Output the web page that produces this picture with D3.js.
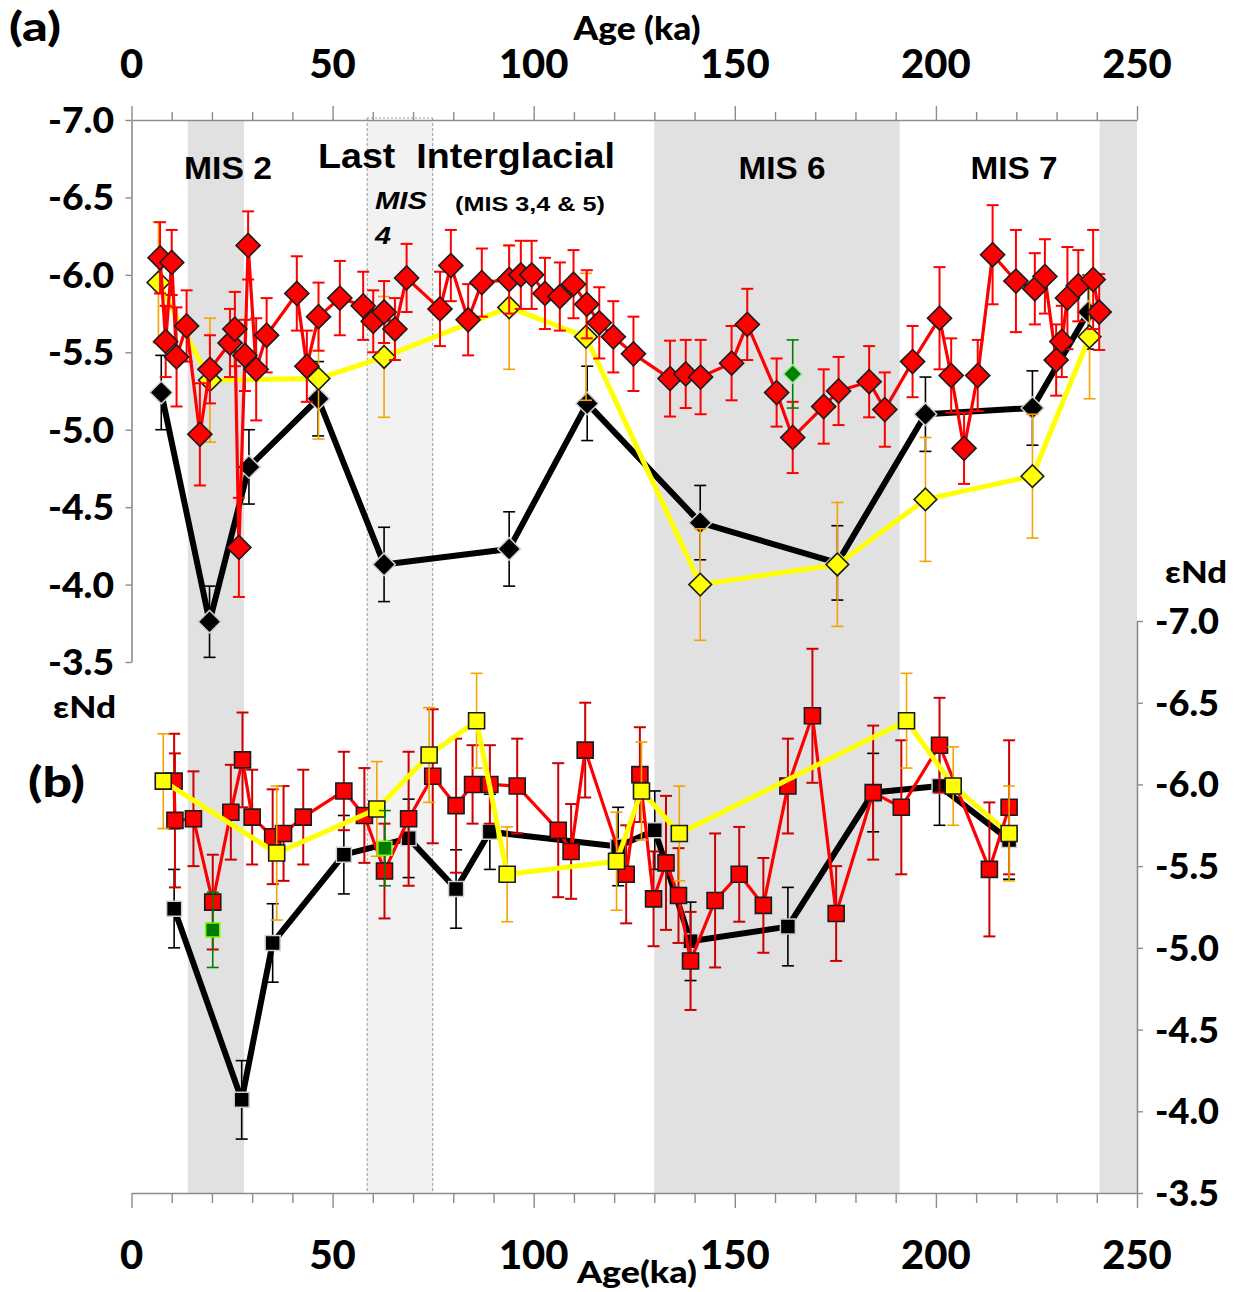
<!DOCTYPE html>
<html>
<head>
<meta charset="utf-8">
<script src="https://cdn.jsdelivr.net/npm/d3@7"></script>
<style>
  html, body { margin: 0; padding: 0; background: #fff; }
  .num { font-family: Lato, "Open Sans", sans-serif; font-weight: 900; fill: #000; }
  .lab { font-family: "Liberation Sans", Arial, sans-serif; font-weight: 700; fill: #000; white-space: pre; }
</style>
</head>
<body>
<div id="chart"></div>
<script>
// ---- data (ages in ka, εNd values, 1σ errors) ----
const ageTicks = [0, 50, 100, 150, 200, 250];
const ndTicks = [-7.0, -6.5, -6.0, -5.5, -5.0, -4.5, -4.0, -3.5];

const bandNames = ['MIS 2', 'MIS 4', 'MIS 6', 'MIS 8'];
const bandStart = [14, 58.6, 130, 240.7];
const bandEnd = [28, 74.9, 191, 250];

// panel (a) – diamonds
const aRedAge = [7.1, 8.5, 10.0, 11.2, 13.7, 17.0, 19.5, 24.5, 25.7, 26.7, 28.2, 29.0, 31.0, 33.6, 41.1, 43.6, 46.5, 51.8, 57.6, 60.1, 62.8, 65.5, 68.4, 76.7, 79.4, 83.7, 87.1, 93.9, 96.8, 99.5, 102.8, 106.5, 109.9, 113.2, 116.3, 119.8, 124.8, 133.9, 137.8, 141.5, 149.2, 153.1, 160.4, 164.4, 172.1, 175.8, 183.4, 187.3, 194.2, 200.9, 203.8, 207.0, 210.4, 214.1, 219.9, 224.6, 227.1, 229.9, 231.3, 232.7, 235.4, 239.1, 240.6];
const aRedNd = [-6.11, -5.57, -6.08, -5.47, -5.67, -4.97, -5.39, -5.56, -5.65, -4.24, -5.48, -6.19, -5.39, -5.61, -5.88, -5.41, -5.73, -5.85, -5.80, -5.70, -5.76, -5.65, -5.98, -5.78, -6.06, -5.71, -5.95, -5.97, -6.00, -6.00, -5.88, -5.86, -5.94, -5.81, -5.69, -5.60, -5.49, -5.33, -5.36, -5.34, -5.43, -5.68, -5.24, -4.95, -5.15, -5.25, -5.31, -5.13, -5.44, -5.72, -5.35, -4.88, -5.35, -6.13, -5.96, -5.91, -5.99, -5.45, -5.57, -5.85, -5.93, -5.97, -5.76];
const aRedErr = [0.23, 0.23, 0.21, 0.32, 0.23, 0.33, 0.22, 0.22, 0.24, 0.32, 0.23, 0.22, 0.33, 0.24, 0.24, 0.23, 0.22, 0.24, 0.22, 0.2, 0.2, 0.2, 0.22, 0.24, 0.23, 0.23, 0.22, 0.22, 0.22, 0.22, 0.23, 0.22, 0.22, 0.22, 0.23, 0.23, 0.24, 0.245, 0.22, 0.24, 0.24, 0.23, 0.22, 0.23, 0.24, 0.22, 0.23, 0.24, 0.23, 0.33, 0.24, 0.23, 0.23, 0.32, 0.33, 0.23, 0.24, 0.23, 0.23, 0.33, 0.23, 0.32, 0.245];

const aYelAge = [6.7, 19.5, 46.5, 62.8, 93.9, 113.0, 141.4, 175.5, 197.4, 224.0, 238.2];
const aYelNd = [-5.95, -5.32, -5.33, -5.47, -5.79, -5.60, -4.00, -4.13, -4.55, -4.70, -5.60];
const aYelErr = [0.39, 0.40, 0.39, 0.39, 0.40, 0.41, 0.36, 0.40, 0.40, 0.40, 0.40];

const aBlkAge = [7.4, 19.4, 29.2, 46.4, 62.8, 93.9, 113.3, 141.4, 175.5, 197.4, 224.0, 237.9];
const aBlkNd = [-5.24, -3.76, -4.76, -5.20, -4.13, -4.23, -5.17, -4.40, -4.14, -5.10, -5.14, -5.76];
const aBlkErr = [0.24, 0.23, 0.24, 0.24, 0.24, 0.24, 0.24, 0.24, 0.24, 0.24, 0.24, 0.24];

const aGrnAge = [164.4];
const aGrnNd = [-5.36];
const aGrnErr = [0.22];

// panel (b) – squares
const bRedAge = [10.6, 10.8, 15.4, 20.2, 24.7, 27.6, 30.0, 35.1, 37.8, 42.7, 52.8, 57.9, 62.9, 68.9, 74.9, 80.7, 84.8, 89.1, 95.9, 106.1, 109.3, 112.8, 123.0, 126.4, 129.8, 132.9, 136.0, 139.0, 145.1, 151.1, 157.1, 163.2, 169.3, 175.2, 184.4, 191.4, 200.9, 213.3, 218.2];
const bRedNd = [-6.02, -5.78, -5.79, -5.28, -5.83, -6.15, -5.80, -5.68, -5.70, -5.80, -5.96, -5.81, -5.47, -5.79, -6.05, -5.87, -6.00, -6.00, -5.99, -5.72, -5.59, -6.21, -5.45, -6.06, -5.30, -5.52, -5.32, -4.92, -5.29, -5.45, -5.26, -5.99, -6.42, -5.21, -5.95, -5.86, -6.24, -5.48, -5.86];
const bRedErr = [0.29, 0.41, 0.29, 0.29, 0.29, 0.29, 0.29, 0.29, 0.29, 0.29, 0.24, 0.29, 0.29, 0.41, 0.41, 0.41, 0.24, 0.24, 0.29, 0.41, 0.29, 0.29, 0.30, 0.29, 0.29, 0.41, 0.29, 0.30, 0.41, 0.29, 0.29, 0.29, 0.41, 0.29, 0.41, 0.41, 0.29, 0.41, 0.41];

const bYelAge = [7.9, 36.1, 61.0, 74.0, 85.8, 93.4, 120.6, 126.8, 136.2, 192.7, 204.3, 218.2];
const bYelNd = [-6.02, -5.58, -5.85, -6.18, -6.39, -5.45, -5.53, -5.96, -5.70, -6.39, -5.99, -5.70];
const bYelErr = [0.29, 0.41, 0.29, 0.29, 0.29, 0.29, 0.30, 0.30, 0.29, 0.29, 0.24, 0.29];

const bBlkAge = [10.6, 27.4, 35.1, 52.8, 68.9, 80.7, 89.1, 121.0, 130.1, 139.0, 163.2, 184.4, 200.9, 218.2];
const bBlkNd = [-5.24, -4.07, -5.03, -5.57, -5.67, -5.36, -5.71, -5.62, -5.72, -5.04, -5.13, -5.95, -5.99, -5.66];
const bBlkErr = [0.24, 0.24, 0.24, 0.24, 0.24, 0.24, 0.23, 0.24, 0.24, 0.24, 0.24, 0.24, 0.24, 0.24];

const bGrnAge = [20.2, 63.0];
const bGrnNd = [-5.11, -5.61];
const bGrnErr = [0.23, 0.23];

// ---- layout ----
const width = 1244, height = 1292;
const x = d3.scaleLinear().domain([0, 250]).range([131.5, 1137]);
const yA = d3.scaleLinear().domain([-7, -3.5]).range([120, 662]);
const yB = d3.scaleLinear().domain([-7, -3.5]).range([621, 1193]);
const axisColor = '#8c8c8c';
const fmt = d => d.toFixed(1); // plain hyphen, as in the original

const svg = d3.select('#chart')
  .append('svg')
  .attr('width', width)
  .attr('height', height)
  .style('background-color', 'white');

// MIS bands, through both panels
const bands = bandNames.map((n, i) => ({ name: n, a: bandStart[i], b: bandEnd[i] }));
svg.append('g').selectAll('rect')
  .data(bands)
  .join('rect')
  .attr('x', d => x(d.a))
  .attr('width', d => x(d.b) - x(d.a))
  .attr('y', yA.range()[0])
  .attr('height', yB.range()[1] - yA.range()[0])
  .attr('fill', d => d.name === 'MIS 4' ? '#f2f2f2' : '#e1e1e1');

// dashed edges of MIS 4
const mis4 = bands[1];
svg.append('g').selectAll('line')
  .data([mis4.a, mis4.b])
  .join('line')
  .attr('x1', d => x(d)).attr('x2', d => x(d))
  .attr('y1', yA.range()[0] - 2).attr('y2', yB.range()[1])
  .attr('stroke', '#9a9a9a')
  .attr('stroke-width', 1)
  .attr('stroke-dasharray', '3,2');
svg.append('line')
  .attr('x1', x(mis4.a)).attr('x2', x(mis4.b))
  .attr('y1', yA.range()[0] - 2).attr('y2', yA.range()[0] - 2)
  .attr('stroke', '#9a9a9a')
  .attr('stroke-width', 1)
  .attr('stroke-dasharray', '2,2');

// ---- axes ----
const minorAges = d3.range(0, 251, 10);

function styleAxis(g) {
  g.select('.domain').attr('stroke', axisColor).attr('stroke-width', 1.6);
  g.selectAll('.tick line').attr('stroke', axisColor).attr('stroke-width', 1.4);
}

const topAxis = svg.append('g')
  .attr('transform', `translate(0,${yA.range()[0]})`)
  .call(d3.axisTop(x).tickValues(minorAges).tickSize(8).tickSizeOuter(0).tickFormat(''));
topAxis.selectAll('.tick line').filter(d => d % 50 === 0).attr('y2', -14);
styleAxis(topAxis);

const bottomAxis = svg.append('g')
  .attr('transform', `translate(0,${yB.range()[1]})`)
  .call(d3.axisBottom(x).tickValues(minorAges).tickSize(10).tickSizeOuter(0).tickFormat(''));
bottomAxis.selectAll('.tick line').filter(d => d % 50 === 0).attr('y2', 15);
styleAxis(bottomAxis);

const leftAxis = svg.append('g')
  .attr('transform', `translate(${x(0)},0)`)
  .call(d3.axisLeft(yA).tickValues(ndTicks).tickSize(6).tickSizeOuter(0).tickFormat(''));
styleAxis(leftAxis);

const rightAxis = svg.append('g')
  .attr('transform', `translate(${x(250)},0)`)
  .call(d3.axisRight(yB).tickValues(ndTicks).tickSize(6).tickSizeOuter(0).tickFormat(''));
styleAxis(rightAxis);

// axis labels
svg.append('g').selectAll('text')
  .data(ageTicks)
  .join('text')
  .attr('class', 'num')
  .attr('x', d => x(d))
  .attr('y', 64)
  .attr('dy', '0.36em')
  .attr('text-anchor', 'middle')
  .style('font-size', '40px')
  .text(d => d);

svg.append('g').selectAll('text')
  .data(ageTicks)
  .join('text')
  .attr('class', 'num')
  .attr('x', d => x(d))
  .attr('y', 1255)
  .attr('dy', '0.36em')
  .attr('text-anchor', 'middle')
  .style('font-size', '40px')
  .text(d => d);

svg.append('g').selectAll('text')
  .data(ndTicks)
  .join('text')
  .attr('class', 'num')
  .attr('x', 114)
  .attr('y', d => yA(d))
  .attr('dy', '0.36em')
  .attr('text-anchor', 'end')
  .style('font-size', '36px')
  .attr('textLength', 66)
  .attr('lengthAdjust', 'spacingAndGlyphs')
  .text(fmt);

svg.append('g').selectAll('text')
  .data(ndTicks)
  .join('text')
  .attr('class', 'num')
  .attr('x', 1155)
  .attr('y', d => yB(d))
  .attr('dy', '0.36em')
  .attr('text-anchor', 'start')
  .style('font-size', '36px')
  .attr('textLength', 64)
  .attr('lengthAdjust', 'spacingAndGlyphs')
  .text(fmt);

function addText(txt, tx, ty, size, cls, anchor, len, italic) {
  const t = svg.append('text')
    .attr('class', cls)
    .attr('x', tx)
    .attr('y', ty)
    .attr('dy', '0.36em')
    .attr('text-anchor', anchor || 'start')
    .style('font-size', size + 'px')
    .style('font-style', italic ? 'italic' : 'normal')
    .text(txt);
  if (len) t.attr('textLength', len).attr('lengthAdjust', 'spacingAndGlyphs');
}

addText('(a)', 9, 27, 40, 'num', 'start', 52);
addText('Age (ka)', 637, 28, 32, 'num', 'middle', 127);
addText('(b)', 28, 782, 42, 'num', 'start', 57);
addText('εNd', 53, 707, 31, 'num', 'start', 63);
addText('εNd', 1165, 572, 31, 'num', 'start', 62);
addText('Age(ka)', 577, 1272, 31, 'num', 'start', 120);

addText('MIS 2', 228, 168, 31, 'lab', 'middle', 88);
addText('Last  Interglacial', 318, 155, 35, 'lab', 'start', 297);
addText('MIS', 375, 200, 24, 'lab', 'start', 52, true);
addText('4', 375, 235, 24, 'lab', 'start', 16, true);
addText('(MIS 3,4 & 5)', 455, 204, 20, 'lab', 'start', 150);
addText('MIS 6', 782, 168, 31, 'lab', 'middle', 87);
addText('MIS 7', 1014, 168, 31, 'lab', 'middle', 87);

// ---- series ----
function drawSeries(ages, nds, errs, y, o) {
  const pts = ages.map((a, i) => ({ age: a, nd: nds[i], err: errs[i] }));
  const g = svg.append('g');

  // error bars
  const eb = g.append('g')
    .attr('stroke', o.errColor)
    .attr('stroke-width', o.errWidth)
    .selectAll('g')
    .data(pts)
    .join('g');
  eb.append('line')
    .attr('x1', d => x(d.age)).attr('x2', d => x(d.age))
    .attr('y1', d => y(d.nd - d.err)).attr('y2', d => y(d.nd + d.err));
  eb.append('line')
    .attr('x1', d => x(d.age) - o.cap).attr('x2', d => x(d.age) + o.cap)
    .attr('y1', d => y(d.nd - d.err)).attr('y2', d => y(d.nd - d.err));
  eb.append('line')
    .attr('x1', d => x(d.age) - o.cap).attr('x2', d => x(d.age) + o.cap)
    .attr('y1', d => y(d.nd + d.err)).attr('y2', d => y(d.nd + d.err));

  if (o.lineWidth) {
    g.append('path')
      .datum(pts)
      .attr('fill', 'none')
      .attr('stroke', o.lineColor)
      .attr('stroke-width', o.lineWidth)
      .attr('stroke-linejoin', 'round')
      .attr('d', d3.line().x(d => x(d.age)).y(d => y(d.nd)));
  }

  g.append('g').selectAll('path')
    .data(pts)
    .join('path')
    .attr('d', d3.symbol().type(d3.symbolSquare).size(o.size * o.size))
    .attr('transform', d => `translate(${x(d.age)},${y(d.nd)}) rotate(${o.rotate})`)
    .attr('fill', o.fill)
    .attr('stroke', o.stroke)
    .attr('stroke-width', o.strokeWidth);
}

// panel (a)
drawSeries(aBlkAge, aBlkNd, aBlkErr, yA, {
  errColor: '#000', errWidth: 1.6, cap: 6, lineColor: '#000', lineWidth: 6,
  fill: '#000', stroke: '#d0d0d0', strokeWidth: 1.5, size: 16, rotate: 45
});
drawSeries(aYelAge, aYelNd, aYelErr, yA, {
  errColor: '#f5a300', errWidth: 1.6, cap: 6, lineColor: '#ffff00', lineWidth: 5,
  fill: '#ffff00', stroke: '#1a1a1a', strokeWidth: 1.6, size: 16, rotate: 45
});
drawSeries(aRedAge, aRedNd, aRedErr, yA, {
  errColor: '#ff0000', errWidth: 2, cap: 6, lineColor: '#ff0000', lineWidth: 3.2,
  fill: '#ff0000', stroke: '#1a1a1a', strokeWidth: 1.6, size: 17, rotate: 45
});
drawSeries(aGrnAge, aGrnNd, aGrnErr, yA, {
  errColor: '#008000', errWidth: 1.6, cap: 6, lineWidth: 0,
  fill: '#008000', stroke: '#90ee90', strokeWidth: 1.5, size: 13, rotate: 45
});

// panel (b)
drawSeries(bBlkAge, bBlkNd, bBlkErr, yB, {
  errColor: '#000', errWidth: 1.6, cap: 6, lineColor: '#000', lineWidth: 6,
  fill: '#000', stroke: '#d0d0d0', strokeWidth: 1.5, size: 15, rotate: 0
});
drawSeries(bRedAge, bRedNd, bRedErr, yB, {
  errColor: '#cc0000', errWidth: 2, cap: 6, lineColor: '#ff0000', lineWidth: 3.2,
  fill: '#ff0000', stroke: '#1a1a1a', strokeWidth: 1.6, size: 16, rotate: 0
});
drawSeries(bYelAge, bYelNd, bYelErr, yB, {
  errColor: '#f5a300', errWidth: 1.6, cap: 6, lineColor: '#ffff00', lineWidth: 5,
  fill: '#ffff00', stroke: '#1a1a1a', strokeWidth: 1.6, size: 16, rotate: 0
});
drawSeries(bGrnAge, bGrnNd, bGrnErr, yB, {
  errColor: '#008000', errWidth: 1.6, cap: 6, lineWidth: 0,
  fill: '#007a00', stroke: '#7cfc00', strokeWidth: 1.5, size: 14, rotate: 0
});
</script>
</body>
</html>
